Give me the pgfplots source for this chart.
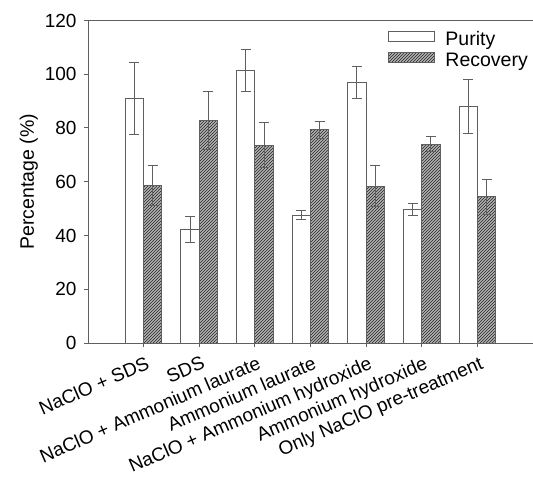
\documentclass[border=0pt]{standalone}
\usepackage{fontspec}
\setmainfont{Liberation Sans}
\usepackage{pgfplots}
\usepackage{pgfplotstable}
\pgfplotsset{compat=1.18}
\usetikzlibrary{patterns}
\pgfplotsset{
  legA/.style={legend image code/.code={\draw[##1] (0pt,-2pt) rectangle (46pt,8pt); \path (55.5pt,0pt);}},
  legB/.style={legend image code/.code={\path[##1, draw=none] (0pt,-2pt) rectangle (46pt,8pt); \path (55.5pt,0pt);}}
}
\newcommand{\bigf}{\fontsize{19.5}{23}\selectfont}
\newcommand{\tickf}{\fontsize{19}{22}\selectfont}
\definecolor{axgray}{RGB}{95,95,95}

\pgfplotstableread{
x p pe r re
0 91.0 13.5 58.5 7.5
1 42.3 4.9 82.7 10.8
2 101.4 7.7 73.6 8.4
3 47.5 1.7 79.4 3.2
4 96.9 6.0 58.4 7.7
5 49.7 2.3 74.0 2.9
6 88.1 10.0 54.4 6.5
}\datatable

\begin{document}
\begin{tikzpicture}
\begin{axis}[
  scale only axis, width=445pt, height=322.5pt,
  xmin=-1, xmax=7, ymin=0, ymax=120,
  axis line style={draw=none},
  clip=false,
  xtick={0,...,6},
  xticklabels={NaClO + SDS, SDS, NaClO + Ammonium laurate, Ammonium laurate, NaClO + Ammonium hydroxide, Ammonium hydroxide, Only NaClO pre-treatment},
  xtick pos=bottom, ytick pos=left,
  xticklabel style={xshift=2pt, yshift=-7pt, rotate=23.5, anchor=north east, inner sep=1pt, font=\tickf},
  yticklabel style={xshift=-4pt, font=\tickf},
  ytick={0,20,...,120},
  tick align=outside, major tick length=4pt,
  tick style={draw=axgray, line width=1pt},
  ylabel={Percentage (\%)},
  ylabel style={font=\bigf},
  /pgf/number format/assume math mode=true,
  ybar=0pt, bar width=0.33,
  legend style={at={(1,1)}, anchor=north east, xshift=-4pt, yshift=-9.5pt, inner sep=0pt, row sep=4.5pt,
    draw=none, fill=none, font=\bigf, nodes={inner sep=1pt}},
  legend cell align=left,
]
\draw[axgray, line width=1pt] (rel axis cs:1,1) -- (rel axis cs:0,1) -- (rel axis cs:0,0) -- (rel axis cs:1,0);
\addplot[legA, draw=axgray, fill=white, line width=1pt,
  error bars/.cd, y dir=both, y explicit,
  error bar style={draw=axgray, line width=1pt},
  error mark options={rotate=90, draw=axgray, mark size=5pt, line width=1pt}]
  table[x=x, y=p, y error=pe] {\datatable};
\addlegendentry{Purity}
\addplot[legB, draw=axgray, fill=black!30, line width=1pt,
  postaction={pattern=north east lines, pattern color=black!85},
  error bars/.cd, y dir=both, y explicit,
  error bar style={draw=axgray, line width=1pt},
  error mark options={rotate=90, draw=axgray, mark size=5pt, line width=1pt}]
  table[x=x, y=r, y error=re] {\datatable};
\addlegendentry{Recovery}
\end{axis}
\pgfresetboundingbox
\path ([xshift=-88pt, yshift=20.5pt]current axis.north west) rectangle ([yshift=-141pt]current axis.south east);
\end{tikzpicture}
\end{document}
